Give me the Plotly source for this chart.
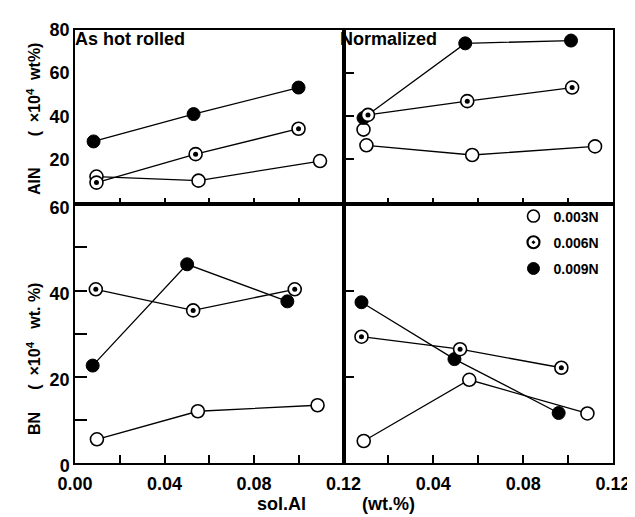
import plotly.graph_objects as go

# ---------------- data ----------------
series_names = ["0.003N", "0.006N", "0.009N"]

# As hot rolled, AlN (x10^4 wt%)
hot_x_003 = [0.0096, 0.0552, 0.1095]
hot_aln_003 = [12.0, 10.1, 19.2]
hot_x_006 = [0.0096, 0.0539, 0.0999]
hot_aln_006 = [9.2, 22.4, 34.2]
hot_x_009 = [0.0083, 0.0530, 0.0999]
hot_aln_009 = [28.3, 41.0, 53.3]

# Normalized, AlN
nor_x_003 = [0.0102, 0.0573, 0.1120]
nor_aln_003 = [26.5, 22.0, 26.0]
nor_x_003_extra = [0.0089]
nor_aln_003_extra = [33.8]
nor_x_006 = [0.0109, 0.0551, 0.1018]
nor_aln_006 = [40.6, 47.0, 53.3]
nor_x_009 = [0.0089, 0.0542, 0.1013]
nor_aln_009 = [39.2, 73.8, 75.1]

# As hot rolled, BN
hot_bx_003 = [0.0098, 0.0549, 0.1084]
hot_bn_003 = [5.5, 12.0, 13.4]
hot_bx_006 = [0.0093, 0.0528, 0.0982]
hot_bn_006 = [40.3, 35.4, 40.3]
hot_bx_009 = [0.0079, 0.0501, 0.0949]
hot_bn_009 = [22.6, 46.1, 37.5]

# Normalized, BN
nor_bx_003 = [0.0090, 0.0560, 0.1086]
nor_bn_003 = [5.1, 19.3, 11.5]
nor_bx_006 = [0.0080, 0.0519, 0.0970]
nor_bn_006 = [29.3, 26.4, 22.1]
nor_bx_009 = [0.0080, 0.0494, 0.0958]
nor_bn_009 = [37.3, 24.1, 11.6]

x_tickvals = [0.0, 0.02, 0.04, 0.06, 0.08, 0.10, 0.12]
x_ticktext_left = ["0.00", "", "0.04", "", "0.08", "", "0.12"]
x_ticktext_right = ["", "", "0.04", "", "0.08", "", "0.12"]

# ---------------- figure ----------------
FONT = "Liberation Sans, Arial, sans-serif"
fig = go.Figure()

panels = {
    "tl": ("x", "y"),
    "tr": ("x2", "y2"),
    "bl": ("x3", "y3"),
    "br": ("x4", "y4"),
}

LINE = dict(color="black", width=1.3)
OPEN = dict(symbol="circle", size=13, color="white", line=dict(color="black", width=1.6))
FILLED = dict(symbol="circle", size=13, color="black", line=dict(color="black", width=1))
DOT = dict(symbol="circle", size=5, color="black", line=dict(width=0))


def add_series(panel, xs, ys, kind):
    xa, ya = panels[panel]
    if kind == "open":
        fig.add_trace(go.Scatter(x=xs, y=ys, mode="lines+markers", line=LINE, marker=OPEN,
                                 xaxis=xa, yaxis=ya, showlegend=False, hoverinfo="skip"))
    elif kind == "dot":
        fig.add_trace(go.Scatter(x=xs, y=ys, mode="lines+markers", line=LINE, marker=OPEN,
                                 xaxis=xa, yaxis=ya, showlegend=False, hoverinfo="skip"))
        fig.add_trace(go.Scatter(x=xs, y=ys, mode="markers", marker=DOT,
                                 xaxis=xa, yaxis=ya, showlegend=False, hoverinfo="skip"))
    else:
        fig.add_trace(go.Scatter(x=xs, y=ys, mode="lines+markers", line=LINE, marker=FILLED,
                                 xaxis=xa, yaxis=ya, showlegend=False, hoverinfo="skip"))


add_series("tl", hot_x_003, hot_aln_003, "open")
add_series("tl", hot_x_006, hot_aln_006, "dot")
add_series("tl", hot_x_009, hot_aln_009, "filled")

add_series("tr", nor_x_003, nor_aln_003, "open")
fig.add_trace(go.Scatter(x=nor_x_003_extra, y=nor_aln_003_extra, mode="markers", marker=OPEN,
                         xaxis="x2", yaxis="y2", showlegend=False, hoverinfo="skip"))
add_series("tr", nor_x_009, nor_aln_009, "filled")
add_series("tr", nor_x_006, nor_aln_006, "dot")

add_series("bl", hot_bx_003, hot_bn_003, "open")
add_series("bl", hot_bx_009, hot_bn_009, "filled")
add_series("bl", hot_bx_006, hot_bn_006, "dot")

add_series("br", nor_bx_003, nor_bn_003, "open")
add_series("br", nor_bx_009, nor_bn_009, "filled")
add_series("br", nor_bx_006, nor_bn_006, "dot")

# legend entries
leg_markers = [
    dict(symbol="circle", size=12, color="white", line=dict(color="black", width=1.6)),
    dict(symbol="circle-dot", size=12, color="white", line=dict(color="black", width=2.2)),
    dict(symbol="circle", size=12, color="black", line=dict(color="black", width=1)),
]
for name, mk in zip(series_names, leg_markers):
    fig.add_trace(go.Scatter(x=[None], y=[None], mode="markers", marker=mk, name=name,
                             xaxis="x4", yaxis="y4", showlegend=True, legendgroup=name))

xsplit = 0.4991
ysplit = 0.5973
tickfont = dict(family=FONT, size=18, color="black", weight="bold")
common_axis = dict(showline=True, linecolor="black", linewidth=1.5, mirror=True,
                   showgrid=False, zeroline=False, tickcolor="black", tickwidth=1.5)

fig.update_layout(
    width=635, height=517,
    margin=dict(l=67, r=19, t=13, b=62),
    paper_bgcolor="white", plot_bgcolor="white",
    font=dict(family=FONT, color="black"),
    xaxis=dict(domain=[0, xsplit], range=[0, 0.12], anchor="y", tickvals=x_tickvals,
               ticktext=[""] * 7, ticks="inside", ticklen=7, **common_axis),
    yaxis=dict(domain=[ysplit, 1], range=[-0.9, 80], anchor="x", tickvals=[20, 40, 60, 80],
               ticks="", tickfont=tickfont, **common_axis),
    xaxis2=dict(domain=[xsplit, 1], range=[0, 0.12], anchor="y2", tickvals=x_tickvals,
                ticktext=[""] * 7, ticks="inside", ticklen=7, **common_axis),
    yaxis2=dict(domain=[ysplit, 1], range=[-0.9, 80], anchor="x2", tickvals=[20, 40, 60],
                ticktext=["", "", ""], ticks="inside", ticklen=11, **common_axis),
    xaxis3=dict(domain=[0, xsplit], range=[0, 0.12], anchor="y3", tickvals=x_tickvals,
                ticktext=x_ticktext_left, ticks="inside", ticklen=8, tickfont=tickfont,
                ticklabelstandoff=4, **common_axis),
    yaxis3=dict(domain=[0, ysplit], range=[0, 60], anchor="x3", tickvals=[0, 10, 20, 30, 40, 50, 60],
                ticktext=["0", "", "20", "", "40", "", "60"], ticks="inside", ticklen=12,
                tickfont=tickfont, ticklabelshift=3, **common_axis),
    xaxis4=dict(domain=[xsplit, 1], range=[0, 0.12], anchor="y4", tickvals=x_tickvals,
                ticktext=x_ticktext_right, ticks="inside", ticklen=8, tickfont=tickfont,
                ticklabelstandoff=4, **common_axis),
    yaxis4=dict(domain=[0, ysplit], range=[0, 60], anchor="x4", tickvals=[20, 40],
                ticktext=["", ""], ticks="inside", ticklen=11, **common_axis),
    legend=dict(x=0.815, y=0.6063, xanchor="left", yanchor="top",
                bgcolor="rgba(0,0,0,0)", borderwidth=0, traceorder="grouped",
                tracegroupgap=5,
                font=dict(family=FONT, size=14, color="black", weight="bold")),
)

ann_font = dict(family=FONT, size=18, color="black", weight="bold")
lab_font = dict(family=FONT, size=16, color="black", weight="bold")
xt_font = dict(family=FONT, size=18, color="black", weight="bold")
nb = "\u00a0"
fig.add_annotation(text="As hot rolled", xref="x domain", yref="y domain", x=0.0, y=1.0,
                   xanchor="left", yanchor="top", showarrow=False, font=ann_font,
                   xshift=-2, yshift=3)
fig.add_annotation(text="Normalized", xref="x2 domain", yref="y2 domain", x=0.0, y=1.0,
                   xanchor="left", yanchor="top", showarrow=False, font=ann_font,
                   xshift=-6, yshift=3)
fig.add_annotation(text="AlN" + nb * 7 + "(" + nb * 2 + "×10<sup>4</sup>" + nb * 2 + "wt%)",
                   xref="paper", yref="paper",
                   x=-0.0765, y=0.794, textangle=-90, showarrow=False, font=lab_font,
                   xanchor="center", yanchor="middle")
fig.add_annotation(text="BN" + nb * 5 + "(" + nb * 2 + "×10<sup>4</sup>" + nb * 3 + "wt." + nb + "%)",
                   xref="paper", yref="paper",
                   x=-0.0765, y=0.242, textangle=-90, showarrow=False, font=lab_font,
                   xanchor="center", yanchor="middle")
fig.add_annotation(text="sol.Al", xref="paper", yref="paper", x=0.383, y=-0.083,
                   showarrow=False, font=xt_font, xanchor="center", yanchor="middle",
                   yshift=-5)
fig.add_annotation(text="(wt.%)", xref="paper", yref="paper", x=0.583, y=-0.083,
                   showarrow=False, font=xt_font, xanchor="center", yanchor="middle",
                   yshift=-5)

fig.write_html("out.html")
